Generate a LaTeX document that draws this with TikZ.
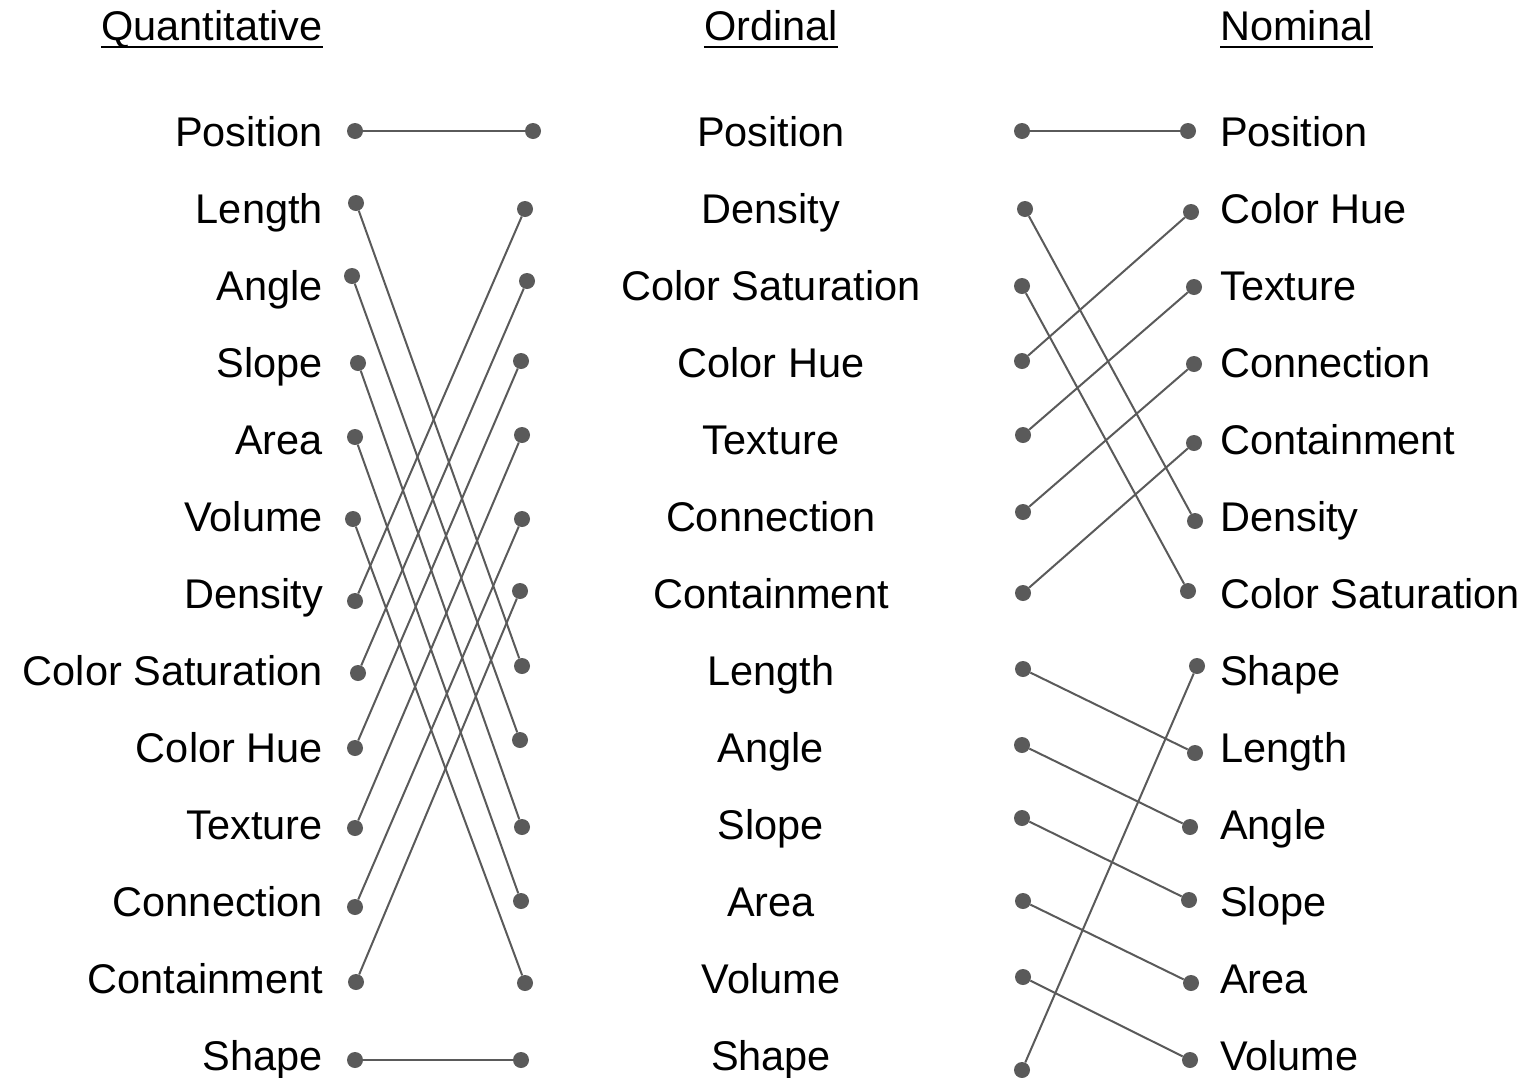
\documentclass[tikz,border=0pt]{standalone}
\usepackage{fontspec}
\setmainfont{Liberation Sans}
\definecolor{dotgray}{HTML}{5A5A5A}
\tikzset{
  bead/.style={circle,fill=dotgray,inner sep=0pt,minimum size=16pt},
  link/.style={draw=dotgray,line width=2pt},
  lbl/.style={font=\fontsize{41.5}{50}\selectfont,inner sep=0pt},
}
\begin{document}
\begin{tikzpicture}[x=1pt,y=-1pt]
  \useasboundingbox (0,0) rectangle (1535,1077);
  % headers
  \node[lbl,anchor=base east] (hq) at (323,40) {Quantitative};
  \node[lbl,anchor=base] (ho) at (771,40) {Ordinal};
  \node[lbl,anchor=base west] (hn) at (1220,40) {Nominal};
  \foreach \h in {hq,ho,hn}
    \draw[line width=2pt] ([yshift=-7pt]\h.base west) -- ([yshift=-7pt]\h.base east);
  % labels
  \foreach \t [count=\i] in {Position,Length,Angle,Slope,Area,Volume,Density,
      Color Saturation,Color Hue,Texture,Connection,Containment,Shape}
    \node[lbl,anchor=base east] (q\i) at (323,{69+77*\i}) {\t};
  \foreach \t [count=\i] in {Position,Density,Color Saturation,Color Hue,Texture,
      Connection,Containment,Length,Angle,Slope,Area,Volume,Shape}
    \node[lbl,anchor=base] (o\i) at (771,{69+77*\i}) {\t};
  \foreach \t [count=\i] in {Position,Color Hue,Texture,Connection,Containment,
      Density,Color Saturation,Shape,Length,Angle,Slope,Area,Volume}
    \node[lbl,anchor=base west] (n\i) at (1220,{69+77*\i}) {\t};
  % dots
  \foreach \x/\y [count=\i] in {355/131,356/203,352/276,358/363,355/437,353/519,
      355/601,358/673,355/748,355/828,355/907,356/982,355/1060}
    \node[bead] (qd\i) at (\x,\y) {};
  \foreach \x/\y [count=\i] in {533/131,525/209,527/281,521/361,522/435,522/519,
      520/591,522/666,520/740,522/827,521/901,525/983,521/1060}
    \node[bead] (oa\i) at (\x,\y) {};
  \foreach \x/\y [count=\i] in {1022/131,1025/209,1022/286,1022/361,1023/435,1023/512,
      1023/593,1023/669,1022/745,1022/818,1023/901,1023/977,1022/1070}
    \node[bead] (ob\i) at (\x,\y) {};
  \foreach \x/\y [count=\i] in {1188/131,1191/212,1194/287,1194/364,1194/443,1195/521,
      1188/591,1197/666,1195/753,1190/827,1189/900,1191/983,1190/1060}
    \node[bead] (nd\i) at (\x,\y) {};
  % links
  \foreach \a/\b in {1/1,2/8,3/9,4/10,5/11,6/12,7/2,8/3,9/4,10/5,11/6,12/7,13/13}
    \draw[link] (qd\a) -- (oa\b);
  \foreach \a/\b in {1/1,2/6,3/7,4/2,5/3,6/4,7/5,8/9,9/10,10/11,11/12,12/13,13/8}
    \draw[link] (ob\a) -- (nd\b);
\end{tikzpicture}
\end{document}
